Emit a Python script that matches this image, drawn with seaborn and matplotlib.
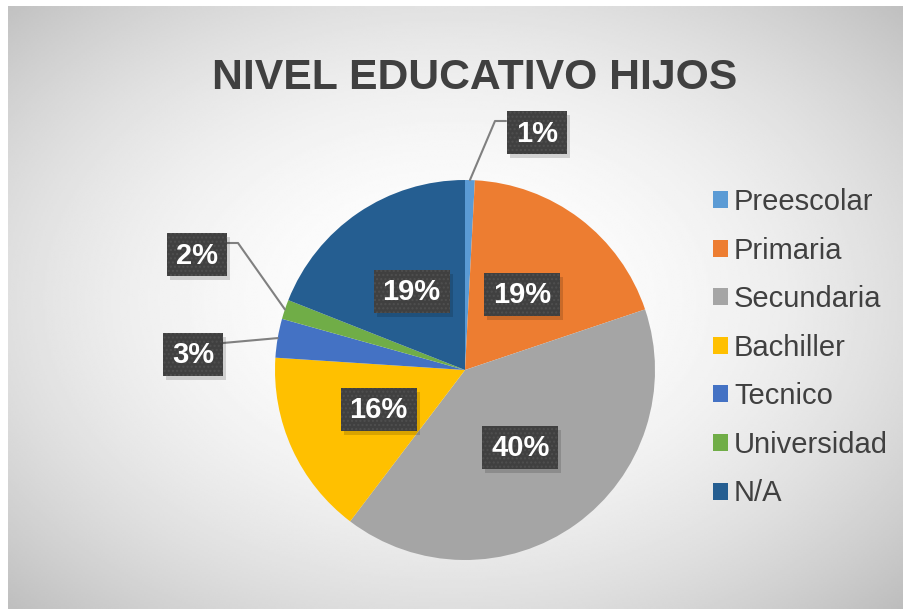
import numpy as np
import matplotlib.pyplot as plt
import seaborn as sns
from matplotlib.patches import Rectangle

# ===== datos =====
categorias = ["Preescolar", "Primaria", "Secundaria", "Bachiller", "Tecnico", "Universidad", "N/A"]
cantidades = [1, 23, 49, 19, 4, 2, 23]
colores = ["#5B9BD5", "#ED7D31", "#A5A5A5", "#FFC000", "#4472C4", "#70AD47", "#255E91"]
titulo = "NIVEL EDUCATIVO HIJOS"

# etiquetas que van fuera del pastel: caja (centro px), codo de la guia (px)
fuera = {
    "Preescolar": {"caja": (537, 133), "codo": [(495, 121), (506, 121)]},
    "Universidad": {"caja": (197, 255), "codo": [(238, 243), (227, 243)]},
    "Tecnico": {"caja": (193, 354), "codo": [(223, 343)]},
}

# ===== figura =====
W, H = 904, 609
sns.set_style("white")
plt.rcParams["font.family"] = ["Liberation Sans", "DejaVu Sans"]
paleta = sns.color_palette(colores)


def px(x, y):
    return x, H - y


fig = plt.figure(figsize=(W / 100, H / 100), dpi=100)
fig.patch.set_facecolor("white")
ax = fig.add_axes([0, 0, 1, 1])
ax.axis("off")

# fondo con degradado radial
gx, gy = np.meshgrid(np.linspace(8, W, 450), np.linspace(6, H, 300))
r2 = ((gx - 450) / 450) ** 2 + ((gy - 300) / 310) ** 2
gris = np.clip(1 - (33 / 255) * r2, 0, 1)
ax.imshow(gris, cmap="gray", vmin=0, vmax=1, extent=(8, W, 0, H - 6),
          aspect="auto", zorder=0, interpolation="bilinear")

# pastel
cx, cy = px(465, 370)
R = 190
wedges, _ = ax.pie(cantidades, colors=paleta, startangle=90, counterclock=False,
                   radius=R, center=(cx, cy), frame=True,
                   wedgeprops=dict(linewidth=0, zorder=2))

ax.set_xlim(0, W)
ax.set_ylim(0, H)
ax.set_aspect("equal", adjustable="box")

total = sum(cantidades)
alto = 43


def caja(x, y, texto):
    ancho = 60 if len(texto) == 2 else 76
    ax.add_patch(Rectangle((x - ancho / 2 + 3, y - alto / 2 - 4), ancho, alto,
                           fc="black", alpha=0.15, lw=0, zorder=4))
    ax.add_patch(Rectangle((x - ancho / 2, y - alto / 2), ancho, alto,
                           fc="#404040", ec="#4f4f4f", lw=0, hatch="....", zorder=5))
    ax.text(x, y - 1, texto, ha="center", va="center", color="white",
            fontsize=21, fontweight="bold", zorder=6)


acum = 0
for cat, val in zip(categorias, cantidades):
    medio = (acum + val / 2) / total
    acum += val
    ang = np.deg2rad(90 - 360 * medio)
    texto = f"{round(100 * val / total)}%"
    if cat in fuera:
        info = fuera[cat]
        borde = (cx + R * np.cos(ang), cy + R * np.sin(ang))
        puntos = [borde] + [px(*p) for p in info["codo"]]
        xs, ys = zip(*puntos)
        ax.plot(xs, ys, color="#808080", lw=1.5, zorder=3)
        caja(*px(*info["caja"]), texto)
    else:
        caja(cx + 0.5 * R * np.cos(ang), cy + 0.5 * R * np.sin(ang), texto)

# titulo
ax.text(*px(475, 89), titulo, ha="center", va="baseline", fontsize=30.8,
        fontweight="bold", color="#404040", zorder=6)

# leyenda
ax.legend(wedges, categorias, loc="upper left", bbox_to_anchor=px(713, 188),
          bbox_transform=ax.transData, frameon=False, fontsize=21,
          handlelength=0.52, handleheight=0.52, handletextpad=0.2,
          labelspacing=0.705, borderpad=0, borderaxespad=0, labelcolor="#404040")

fig.savefig("out.png", dpi=100)
